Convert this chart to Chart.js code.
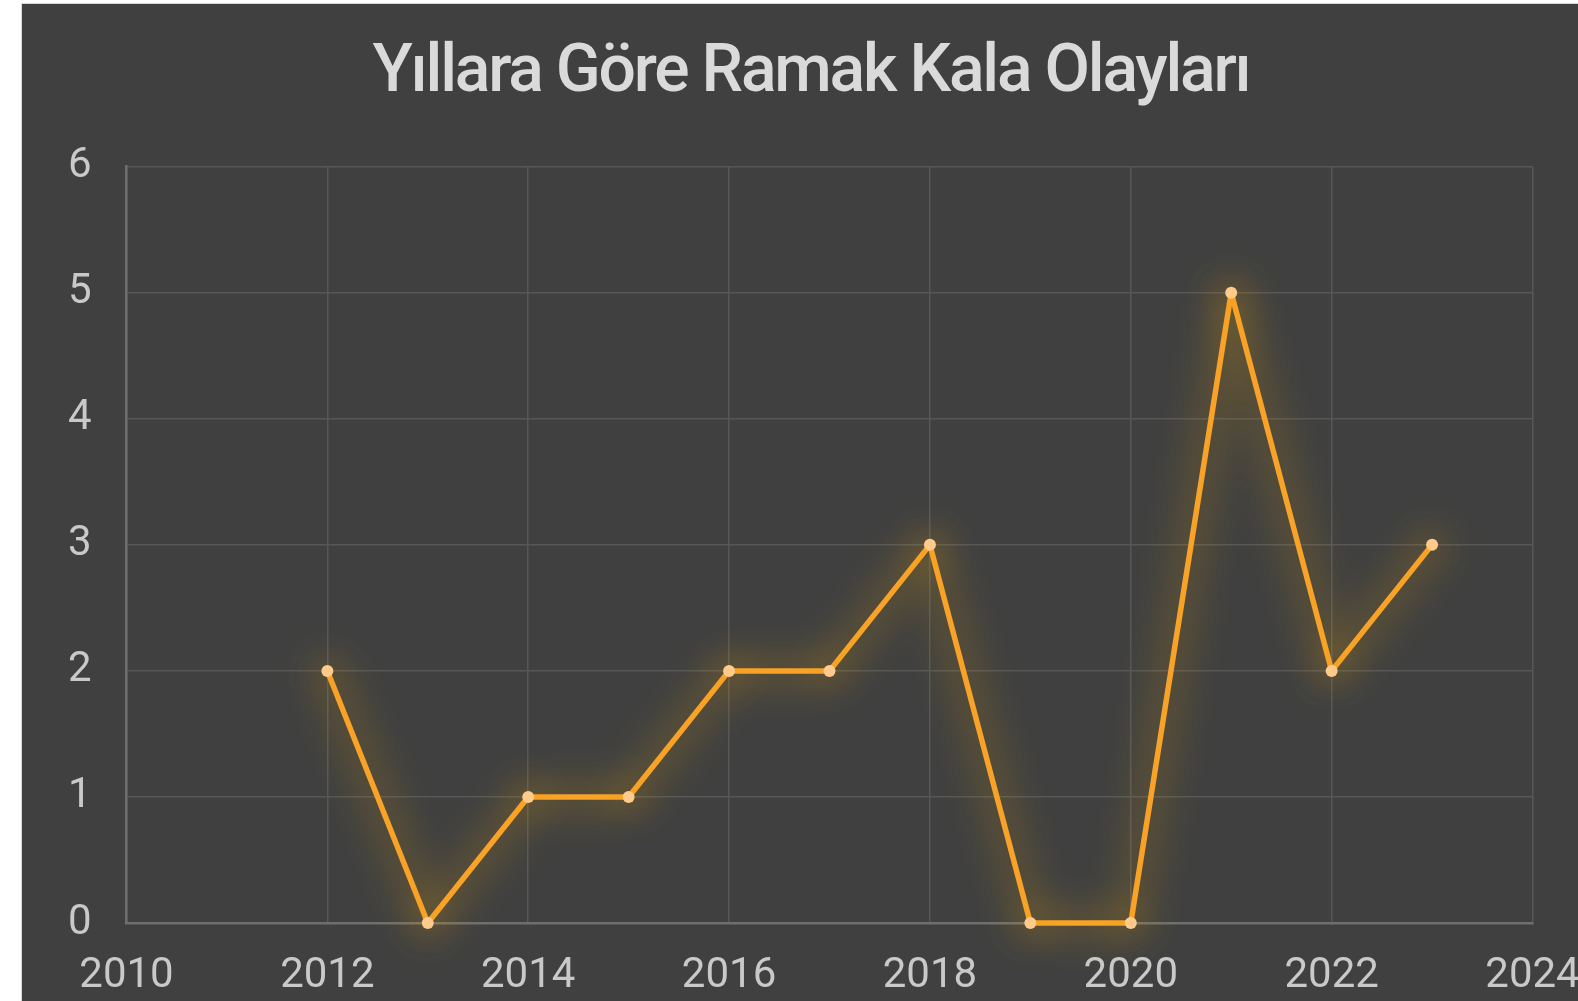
<!DOCTYPE html>
<html><head><meta charset="utf-8">
<script src="https://cdn.jsdelivr.net/npm/chart.js@4.4.0/dist/chart.umd.min.js"></script>
<style>
html,body{margin:0;padding:0;background:#ffffff;overflow:hidden;width:1578px;height:1001px;}
#panel{position:absolute;left:21px;top:3px;width:1580px;height:997px;border:1px solid #d8d8d8;background:#404040;}
#panel canvas{display:block}
</style></head><body>
<div id="panel"><canvas id="c" width="1578" height="995"></canvas></div>
<script>
const titleText = 'Yıllara Göre Ramak Kala Olayları';
const years = [2012, 2013, 2014, 2015, 2016, 2017, 2018, 2019, 2020, 2021, 2022, 2023];
const events = [2, 0, 1, 1, 2, 2, 3, 0, 0, 5, 2, 3];
const xTickValues = [2010, 2012, 2014, 2016, 2018, 2020, 2022, 2024];
const xTickLabels = ['2010', '2012', '2014', '2016', '2018', '2020', '2022', '2024'];
const yTickValues = [0, 1, 2, 3, 4, 5, 6];
const yTickLabels = ['0', '1', '2', '3', '4', '5', '6'];

const glow = {
  id: 'glow',
  beforeDatasetDraw(chart) {
    const ctx = chart.ctx;
    ctx.save();
    ctx.shadowColor = 'rgba(255,180,0,0.95)';
    ctx.shadowBlur = 40;
  },
  afterDatasetDraw(chart) { chart.ctx.restore(); }
};

const titlePlugin = {
  id: 'customTitle',
  beforeDatasetsDraw(chart) {
    const ctx = chart.ctx;
    ctx.save();
    ctx.font = '500 66px Roboto';
    ctx.fillStyle = '#dadada';
    ctx.textAlign = 'center';
    ctx.textBaseline = 'alphabetic';
    if ('letterSpacing' in ctx) ctx.letterSpacing = '-2.2px';
    ctx.fillText(titleText, chart.width / 2, 86.5);
    ctx.restore();
  }
};

new Chart(document.getElementById('c'), {
  type: 'line',
  data: {
    datasets: [{
      data: years.map((y, i) => ({ x: y, y: events[i] })),
      borderColor: '#f8a227',
      borderWidth: 5.5,
      borderJoinStyle: 'round',
      borderCapStyle: 'round',
      pointRadius: 6,
      pointHoverRadius: 6,
      pointBackgroundColor: '#ffca8a',
      pointBorderWidth: 0,
      tension: 0,
      clip: false
    }]
  },
  options: {
    responsive: false,
    animation: false,
    layout: { padding: { top: 162.7, left: 0, right: 0, bottom: 0 } },
    plugins: {
      legend: { display: false },
      tooltip: { enabled: false },
      title: { display: false }
    },
    scales: {
      x: {
        type: 'linear',
        min: 2010, max: 2024,
        afterBuildTicks(scale) { scale.ticks = xTickValues.map(v => ({ value: v })); },
        afterFit(scale) { scale.height = 76; scale.paddingRight = 67.5; },
        ticks: {
          color: '#c9c9c9',
          font: { family: 'Roboto', size: 42 },
          padding: 28,
          maxRotation: 0,
          autoSkip: false,
          callback: (v, i) => xTickLabels[i]
        },
        grid: { color: '#575757', lineWidth: 1.5, drawTicks: false },
        border: { color: '#6e6e6e', width: 2.5 }
      },
      y: {
        min: 0, max: 6,
        afterBuildTicks(scale) { scale.ticks = yTickValues.map(v => ({ value: v })); },
        afterFit(scale) { scale.width = 104.5; },
        ticks: {
          color: '#c9c9c9',
          font: { family: 'Roboto', size: 42 },
          padding: 35,
          callback: (v, i) => yTickLabels[i]
        },
        grid: { color: '#575757', lineWidth: 1.5, drawTicks: false },
        border: { color: '#6e6e6e', width: 2.5 }
      }
    }
  },
  plugins: [glow, titlePlugin]
});
</script>
</body></html>
